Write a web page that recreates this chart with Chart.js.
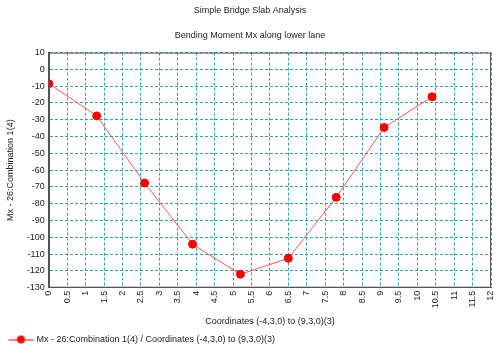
<!DOCTYPE html>
<html>
<head>
<meta charset="utf-8">
<script src="https://cdn.jsdelivr.net/npm/chart.js@4/dist/chart.umd.min.js"></script>
<style>
  html, body { margin: 0; padding: 0; background: #fff; }
  #wrap { width: 498px; height: 345px; }
</style>
</head>
<body>
<div id="wrap"><canvas id="chart"></canvas></div>
<script>
// Chart data
const xPositions = [0, 1.3, 2.6, 3.9, 5.2, 6.5, 7.8, 9.1, 10.4];
const mxValues = [-8.5, -27.7, -67.7, -104.1, -122, -112.5, -76.2, -34.6, -16.3];
const seriesLabel = "Mx - 26:Combination 1(4) / Coordinates (-4,3,0) to (9,3,0)(3)";
const chartTitle = "Simple Bridge Slab Analysis";
const chartSubtitle = "Bending Moment Mx along lower lane";
const xAxisTitle = "Coordinates (-4,3,0) to (9,3,0)(3)";
const yAxisTitle = "Mx - 26:Combination 1(4)";

const points = xPositions.map((x, i) => ({ x: x, y: mxValues[i] }));

const FONT = "'Liberation Sans', Arial, sans-serif";
const GRID = "#2fa6a6";

// legend marker: short line with a dot on it
const legendIcon = document.createElement("canvas");
legendIcon.width = 34;
legendIcon.height = 10;
(function () {
  const c = legendIcon.getContext("2d");
  c.strokeStyle = "#ff0000";
  c.lineWidth = 1;
  c.beginPath();
  c.moveTo(8, 5.5);
  c.lineTo(33, 5.5);
  c.stroke();
  c.fillStyle = "#ff0000";
  c.beginPath();
  c.arc(20.5, 5, 4, 0, Math.PI * 2);
  c.fill();
})();

// frame round the plot area
const frame = {
  id: "frame",
  afterDraw(chart) {
    const a = chart.chartArea;
    const ctx = chart.ctx;
    ctx.save();
    ctx.strokeStyle = "#555";
    ctx.lineWidth = 1;
    ctx.strokeRect(a.left + 0.5, a.top + 0.5, a.right - a.left - 1, a.bottom - a.top - 1);
    ctx.restore();
  },
};

Chart.defaults.font.family = FONT;
Chart.defaults.font.size = 9;
Chart.defaults.color = "#222";

new Chart(document.getElementById("chart").getContext("2d"), {
  type: "scatter",
  data: {
    datasets: [
      {
        label: seriesLabel,
        data: points,
        showLine: true,
        borderColor: "#ff5555",
        borderWidth: 1,
        backgroundColor: "#ff0000",
        pointBorderColor: "#ff0000",
        pointRadius: 4,
        pointStyle: "circle",
      },
    ],
  },
  options: {
    responsive: true,
    maintainAspectRatio: false,
    animation: false,
    layout: { padding: { left: 2, right: 0, top: 2, bottom: -9 } },
    scales: {
      x: {
        type: "linear",
        min: 0,
        max: 12,
        afterFit: (scale) => {
          scale.paddingRight = 7;
        },
        ticks: {
          stepSize: 0.5,
          minRotation: 90,
          maxRotation: 90,
          padding: 3,
          autoSkip: false,
          callback: (v) => String(Math.round(v * 10) / 10),
        },
        grid: { color: GRID, drawTicks: false },
        border: { color: "#555", dash: [3, 2] },
        title: { display: true, text: xAxisTitle, padding: { top: 5, bottom: 7 } },
      },
      y: {
        min: -130,
        max: 10,
        ticks: { stepSize: 10, padding: 4, autoSkip: false },
        grid: { color: GRID, drawTicks: false },
        border: { color: "#555", width: 2, dash: [3, 2] },
        title: { display: true, text: yAxisTitle, padding: { top: 3, bottom: 7 } },
      },
    },
    plugins: {
      title: {
        display: true,
        text: chartTitle,
        font: { size: 9, weight: "normal" },
        padding: { top: 3, bottom: 14 },
      },
      subtitle: {
        display: true,
        text: chartSubtitle,
        color: "#222",
        font: { size: 9 },
        padding: { top: 0, bottom: 12 },
      },
      legend: {
        position: "bottom",
        align: "start",
        labels: {
          usePointStyle: true,
          pointStyle: legendIcon,
          pointStyleWidth: 29,
          padding: 1,
        },
      },
      tooltip: { enabled: false },
    },
  },
  plugins: [frame],
});
</script>
</body>
</html>
